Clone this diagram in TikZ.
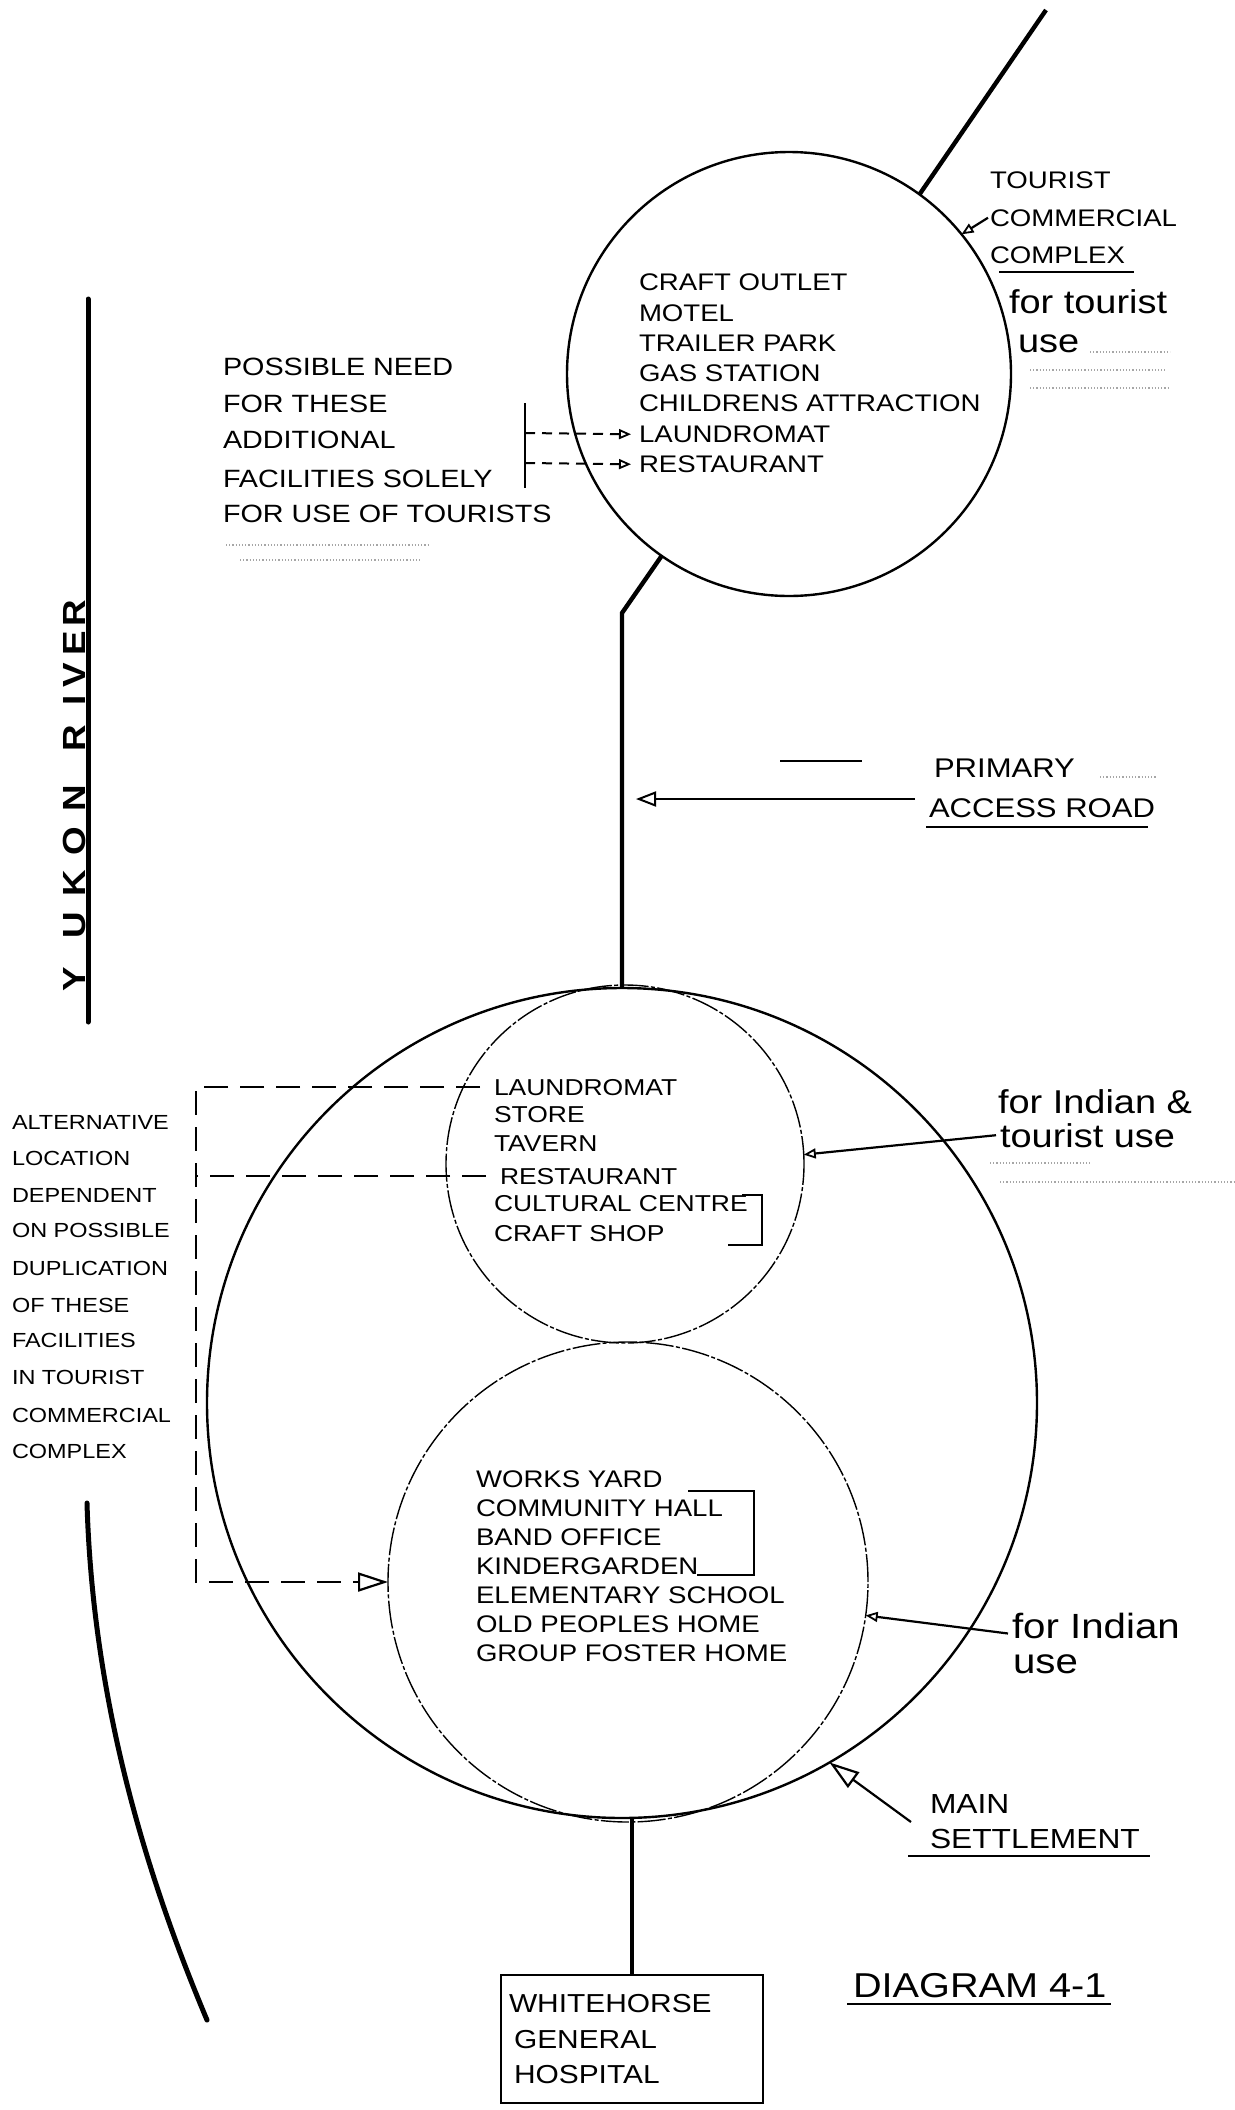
\documentclass[tikz,border=0pt]{standalone}
\usepackage{fontspec}
\setmainfont{Liberation Sans}[FakeStretch=1.15]
\usetikzlibrary{arrows.meta}
\newcommand\fsz[1]{\fontsize{#1}{#1}\selectfont}
\begin{document}
\begin{tikzpicture}[x=0.5pt,y=-0.5pt,
  lbl/.style={inner sep=0pt, outer sep=0pt, anchor=base west},
  road/.style={line width=2.2pt},
  river/.style={line width=2.5pt, line cap=round},
  ring/.style={circle, draw, line width=1.2pt, inner sep=0pt, outer sep=0pt},
  thinring/.style={circle, draw, line width=0.7pt, dash pattern=on 14pt off 1.2pt on 2pt off 1.2pt, inner sep=0pt, outer sep=0pt},
  lead/.style={line width=1.1pt},
  dashA/.style={line width=1.1pt, dash pattern=on 12pt off 6pt},
  dashB/.style={line width=1pt, dash pattern=on 5pt off 3.5pt},
  uline/.style={line width=1.4pt},
  stray/.style={gray!70, line width=0.6pt, densely dotted},
  tipS/.style={-{Triangle[open,length=6pt,width=5pt,line width=0.9pt]}},
  tipM/.style={-{Triangle[open,length=10pt,width=7.5pt,line width=1pt]}},
  tipL/.style={-{Triangle[open,length=15pt,width=9.5pt,line width=1.1pt]}},
]
\fill[white] (0,0) rectangle (1235,2110);
\useasboundingbox (0,0) rectangle (1235,2110);

% circles and box
\node[ring, minimum size=222pt] (tcc) at (789,374) {};
\node[ring, minimum size=415pt] (bigc) at (622,1403) {};
\node[thinring, minimum size=179pt] (upc) at (625,1164) {};
\node[thinring, minimum size=240pt] (lowc) at (628,1582) {};
\node[draw, line width=1.2pt, minimum width=131pt, minimum height=64pt, inner sep=0pt, outer sep=0pt] (hosp) at (632,2039) {};

% roads
\coordinate (rtop) at (1046,10);
\coordinate (rbend) at (622,613);
\draw[road] (rtop) -- (tcc.54.7);
\draw[road] (tcc.235.2) -- (rbend) -- (bigc.north);
\draw[road] (hosp.north) -- (hosp.north |- bigc.south);

% river
\draw[river] (88,299) -- (88,1022);
\draw[river] (87,1503) .. controls (92,1673) and (132,1842) .. (207,2020);
\foreach \ch/\yy [count=\i] in {Y/979,U/925,K/883,O/841,N/798,R/738,I/700,V/675,E/643,R/613}
  \node[inner sep=0pt, rotate=90, anchor=base, font={\fsz{16}\bfseries}] (yr\i) at (85,\yy) {\ch};

% top circle text
\foreach \t/\yy [count=\i] in {CRAFT OUTLET/290, MOTEL/321, TRAILER PARK/351.5, GAS STATION/381.5, CHILDRENS ATTRACTION/411, LAUNDROMAT/442.5, RESTAURANT/472.5}
  \node[lbl, font={\fsz{12}}] (tc\i) at (639,\yy) {\t};

% possible need
\foreach \t/\yy [count=\i] in {POSSIBLE NEED/375, FOR THESE/412, ADDITIONAL/448, FACILITIES SOLELY/487, FOR USE OF TOURISTS/522}
  \node[lbl, font={\fsz{12.5}}] (pn\i) at (223,\yy) {\t};
\draw[lead] (525,403) -- (525,488);
\coordinate (pa1) at (525,433);
\coordinate (pa2) at (525,463);
\draw[dashB,tipS] (pa1) -- ([xshift=-4pt]tc6.west);
\draw[dashB,tipS] (pa2) -- ([xshift=-4pt]tc7.west);

% tourist commercial complex
\foreach \t/\yy [count=\i] in {TOURIST/188, COMMERCIAL/226, COMPLEX/263}
  \node[lbl, font={\fsz{12}}] (tt\i) at (990,\yy) {\t};
\draw[uline] (999,272) -- (1134,272);
\draw[lead,tipS] ([xshift=-1pt]tt2.west) -- (tcc.39.7);
\node[lbl, font={\fsz{16.5}}] (ftu1) at (1009,313) {for tourist};
\node[lbl, font={\fsz{16.5}}] (ftu2) at (1018,352) {use};

% primary access road
\node[lbl, font={\fsz{13.5}}] (pr1) at (934,777) {PRIMARY};
\node[lbl, font={\fsz{13.5}}] (pr2) at (929,817) {ACCESS ROAD};
\draw[uline] (926,827) -- (1148,827);
\coordinate (paS) at (915,799);
\coordinate (paT) at (636,799);
\draw[lead,tipM] (paS) -- (paT);
\draw[line width=0.8pt] (780,761) -- (862,761);

% upper inner circle
\foreach \t/\xx/\yy [count=\i] in {LAUNDROMAT/494/1095, STORE/494/1122.5, TAVERN/494/1151, RESTAURANT/500/1184, CULTURAL CENTRE/494/1211, CRAFT SHOP/494/1241}
  \node[lbl, font={\fsz{11.5}}] (ul\i) at (\xx,\yy) {\t};
\draw[lead] (742,1195) -- (762,1195) -- (762,1245) -- (728,1245);
\node[lbl, font={\fsz{16.5}}] (fi1) at (998,1113) {for Indian \&};
\node[lbl, font={\fsz{16.5}}] (fi2) at (1000,1147) {tourist use};
\draw[lead,tipS] ([xshift=-2pt]fi2.west) -- (upc.3.2);

% alternative location
\foreach \t/\yy [count=\i] in {ALTERNATIVE/1129, LOCATION/1165, DEPENDENT/1202, ON POSSIBLE/1237, DUPLICATION/1275, OF THESE/1312, FACILITIES/1347, IN TOURIST/1384, COMMERCIAL/1422, COMPLEX/1458}
  \node[lbl, font={\fsz{10.2}}] (al\i) at (12,\yy) {\t};
\coordinate (db) at (196,1087);
\draw[dashA,tipL] ([xshift=-7pt]ul1.west) -- (ul1.west -| db) -- (db |- lowc.west) -- (lowc.west);
\draw[dashA] ([xshift=-7pt]ul4.west) -- (ul4.west -| db);

% lower inner circle
\foreach \t/\yy [count=\i] in {WORKS YARD/1487, COMMUNITY HALL/1516, BAND OFFICE/1545, KINDERGARDEN/1574, ELEMENTARY SCHOOL/1603, OLD PEOPLES HOME/1632, GROUP FOSTER HOME/1661}
  \node[lbl, font={\fsz{12}}] (ll\i) at (476,\yy) {\t};
\draw[lead] (688,1491) -- (754,1491) -- (754,1575) -- (697,1575);
\node[lbl, font={\fsz{17.5}}] (fu1) at (1012,1638) {for Indian};
\node[lbl, font={\fsz{17.5}}] (fu2) at (1013,1673) {use};
\draw[lead,tipS] ([xshift=-2pt,yshift=-4pt]fu1.west) -- (lowc.-8.3);

% main settlement
\node[lbl, font={\fsz{13.8}}] (ms1) at (930,1813) {MAIN};
\node[lbl, font={\fsz{13.8}}] (ms2) at (930,1848) {SETTLEMENT};
\draw[uline] (908,1856) -- (1150,1856);
\coordinate (msS) at (911,1822);
\draw[lead,tipL] (msS) -- (bigc.-60.4);

% hospital
\node[lbl, font={\fsz{13}}] (h1) at (509,2012) {WHITEHORSE};
\node[lbl, font={\fsz{13}}] (h2) at (514,2048) {GENERAL};
\node[lbl, font={\fsz{13}}] (h3) at (514,2083) {HOSPITAL};

% diagram title
\node[lbl, font={\fsz{17.25}}] (dg) at (853,1997) {DIAGRAM 4-1};
\draw[uline] (847,2004) -- (1111,2004);

% faint scan marks
\draw[stray] (1100,777) -- (1156,777);
\draw[stray] (1090,352) -- (1170,352);
\draw[stray] (1030,370) -- (1165,370);
\draw[stray] (1030,388) -- (1170,388);
\draw[stray] (226,545) -- (430,545);
\draw[stray] (240,560) -- (420,560);
\draw[stray] (990,1163) -- (1090,1163);
\draw[stray] (1000,1182) -- (1235,1182);
\end{tikzpicture}
\end{document}
